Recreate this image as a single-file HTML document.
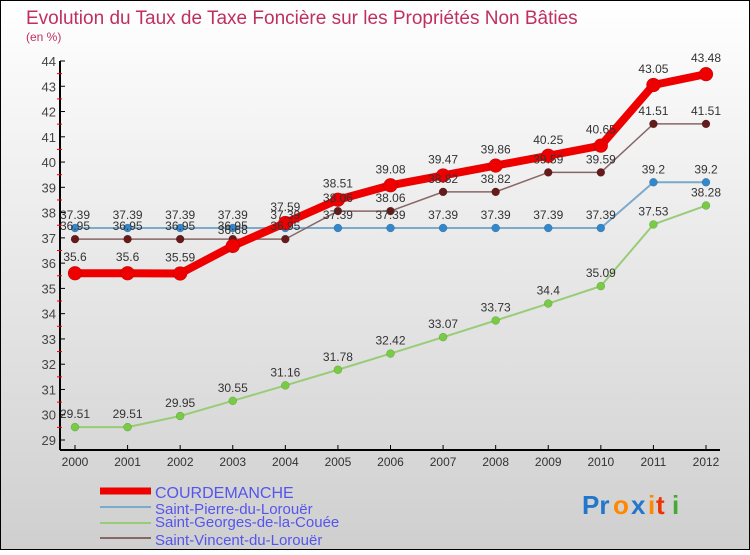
<!DOCTYPE html>
<html><head><meta charset="utf-8"><style>
body{margin:0;width:750px;height:550px;overflow:hidden;font-family:"Liberation Sans",sans-serif}
svg text{font-family:"Liberation Sans",sans-serif}
</style></head><body>
<svg id="chart" width="750" height="550" xmlns="http://www.w3.org/2000/svg">
<defs><linearGradient id="bg" x1="0" y1="0" x2="0" y2="1"><stop offset="0" stop-color="#ffffff"/><stop offset="1" stop-color="#cfcfcf"/></linearGradient></defs>
<rect x="0.5" y="0.5" width="749" height="549" fill="url(#bg)" stroke="#000"/>
<text x="26" y="24" font-size="19" fill="#c0305e">Evolution du Taux de Taxe Foncière sur les Propriétés Non Bâties</text>
<text x="26" y="41" font-size="12" fill="#c0305e">(en %)</text>
<g id="axes"></g><g id="series"></g><g id="labels"></g>
<g>
<line x1="100" y1="491" x2="151" y2="491" stroke="#ee0000" stroke-width="7"/>
<text x="155" y="498" font-size="16" fill="#5555ee">COURDEMANCHE</text>
<line x1="100" y1="507" x2="151" y2="507" stroke="#7aaacc" stroke-width="2"/>
<text x="155" y="514" font-size="15" fill="#5555ee">Saint-Pierre-du-Lorouër</text>
<line x1="100" y1="523" x2="151" y2="523" stroke="#99cc77" stroke-width="2"/>
<text x="155" y="527" font-size="15" fill="#5555ee">Saint-Georges-de-la-Couée</text>
<line x1="100" y1="538" x2="151" y2="538" stroke="#886666" stroke-width="2"/>
<text x="155" y="545" font-size="15" fill="#5555ee">Saint-Vincent-du-Lorouër</text>
</g>
<g font-size="26" font-weight="bold">
<text x="582" y="514" fill="#2277cc">Pr</text><text x="613" y="514" fill="#ff8800">o</text><text x="631" y="514" fill="#2277cc">x</text><text x="648" y="514" fill="#ff8800">i</text><text x="656" y="514" fill="#ee3300">t</text><text x="672" y="514" fill="#44aa33">i</text>
</g>
</svg>
<script>
const years=[2000,2001,2002,2003,2004,2005,2006,2007,2008,2009,2010,2011,2012];
const yTicks=[29,30,31,32,33,34,35,36,37,38,39,40,41,42,43,44];
const courdemanche=[35.6,35.6,35.59,36.68,37.59,38.51,39.08,39.47,39.86,40.25,40.65,43.05,43.48];
const saintPierre=[37.39,37.39,37.39,37.39,37.39,37.39,37.39,37.39,37.39,37.39,37.39,39.2,39.2];
const saintGeorges=[29.51,29.51,29.95,30.55,31.16,31.78,32.42,33.07,33.73,34.4,35.09,37.53,38.28];
const saintVincent=[36.95,36.95,36.95,36.95,36.95,38.06,38.06,38.82,38.82,39.59,39.59,41.51,41.51];
const NS="http://www.w3.org/2000/svg";
const xS=i=>75+i*(706-75)/(years.length-1);
const yS=v=>61+(44-v)*(440-61)/15;
function mk(t,a,p){const e=document.createElementNS(NS,t);for(const k in a)e.setAttribute(k,a[k]);p.appendChild(e);return e;}
const axes=document.getElementById('axes'),ser=document.getElementById('series'),lab=document.getElementById('labels');
const ya=mk('line',{x1:60,y1:61,x2:60,y2:450,stroke:'#000','stroke-width':2},axes);


const xa=mk('line',{x1:60,y1:450,x2:720,y2:450,stroke:'#000','stroke-width':2},axes);


yTicks.forEach(v=>{
 mk('line',{x1:60,y1:yS(v),x2:65,y2:yS(v),stroke:'#000'},axes);
 if(v<44)mk('line',{x1:57,y1:yS(v+0.5),x2:62,y2:yS(v+0.5),stroke:'#e00'},axes);
 const t=mk('text',{x:56,y:yS(v)+5,'text-anchor':'end','font-size':13,fill:'#444'},axes);
 t.textContent=v;
 
 
});
years.forEach((yr,i)=>{
 mk('line',{x1:xS(i),y1:445,x2:xS(i),y2:450,stroke:'#000'},axes);
 const t=mk('text',{x:xS(i),y:466,'text-anchor':'middle','font-size':12,fill:'#333'},axes);
 t.textContent=yr;
 
 
});
function series(data,name,col,dot,w,r,showLab){
 const pl=mk('polyline',{points:data.map((v,i)=>xS(i)+','+yS(v)).join(' '),fill:'none',stroke:col,'stroke-width':w,'stroke-linejoin':'round'},ser);
 
 
 data.forEach((v,i)=>{
  const c=mk('circle',{cx:xS(i),cy:yS(v),r:r,fill:dot,stroke:'rgba(0,0,0,0.25)','stroke-width':0.5},ser);
  
  
  if(showLab){const t=mk('text',{x:xS(i),y:yS(v)-r-5,'text-anchor':'middle','font-size':12,fill:'#333'},lab);
  t.textContent=v;
  
  }
 });
}
series(saintGeorges,'saint-georges','#99cc77','#77cc44',2,4,true);
series(saintPierre,'saint-pierre','#7aaacc','#3388cc',2,4,true);
series(saintVincent,'saint-vincent','#886666','#661a1a',1.5,4,true);
series(courdemanche,'courdemanche','#ee0000','#ee0000',8,7,true);
</script>
</body></html>
